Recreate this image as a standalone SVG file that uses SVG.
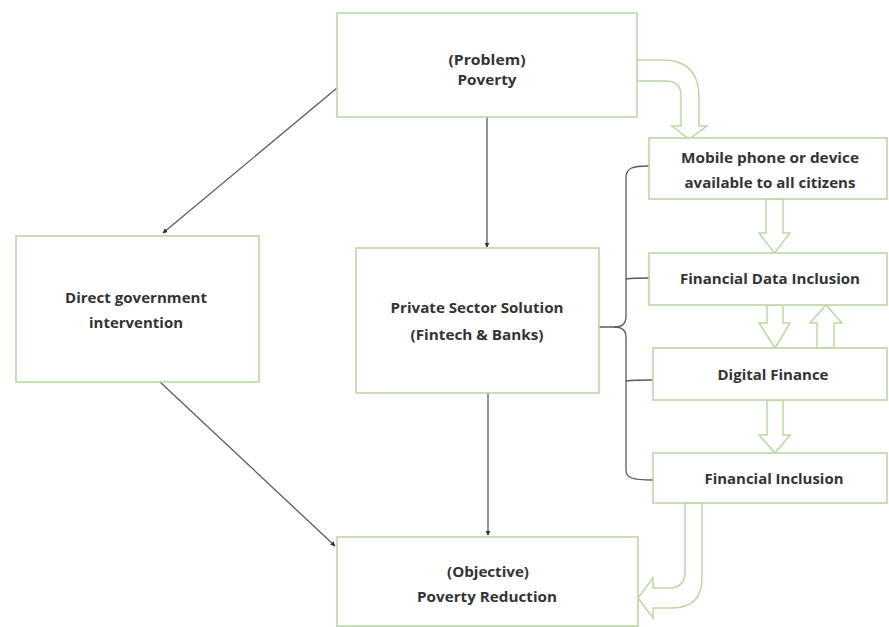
<svg xmlns="http://www.w3.org/2000/svg" width="889" height="627" viewBox="0 0 889 627">
<style>
.box{fill:#ffffff;stroke:#bcd6a4;stroke-width:1.6}
.blk{fill:#ffffff;stroke:#bcd6a4;stroke-width:1.5;stroke-linejoin:miter}
.ln{fill:none;stroke:#5a5a5a;stroke-width:1.3}
.t{font-family:"Open Sans","Liberation Sans",sans-serif;font-weight:700;font-size:15px;fill:#333333;text-anchor:middle}
.s{font-size:14px}
</style>
<defs>
<marker id="dot" viewBox="0 0 8 8" refX="7" refY="4" markerWidth="5" markerHeight="5" orient="auto" markerUnits="userSpaceOnUse">
<path d="M0,0 L8,4 L0,8 Z" fill="#333333"/>
</marker>
</defs>
<rect width="889" height="627" fill="#ffffff"/>
<g id="connectors">
<line class="ln" x1="337" y1="88" x2="163" y2="233" marker-end="url(#dot)"/>
<line class="ln" x1="160" y1="382" x2="335" y2="546" marker-end="url(#dot)"/>
<line class="ln" x1="487" y1="117" x2="487" y2="247" marker-end="url(#dot)"/>
<line class="ln" x1="488" y1="393" x2="488" y2="535" marker-end="url(#dot)"/>
<path class="ln" d="M649,166 C632,166 626,168 626,178 L626,317 C626,324 622,327 614,327 L599,327"/>
<path class="ln" d="M614,327 C622,327 626,330 626,337 L626,470 C626,478 632,480 653,480"/>
<path class="ln" d="M626,279 C634,278 640,278 649,278"/>
<path class="ln" d="M626,381 C634,380 642,380 653,380"/>
<path class="blk" d="M637,60 L662,60 Q699,60 699,97 L699,126 L707,126 L689,139 L672,126 L681,126 L681,96 Q681,81 666,81 L637,81 Z"/>
<path class="blk" d="M766,199 L766,233 L759,233 L774.5,253 L790,233 L783,233 L783,199 Z"/>
<path class="blk" d="M767,305 L767,323 L759,323 L775,348 L790,323 L783,323 L783,305 Z"/>
<path class="blk" d="M817,348 L817,323 L810,323 L826,305 L842,323 L834,323 L834,348 Z"/>
<path class="blk" d="M767,400 L767,435 L759,435 L775,453 L790,435 L783,435 L783,400 Z"/>
<path class="blk" d="M685,503 L685,572 Q685,588 669,588 L653,588 L653,578 L638,598 L653,618 L653,608 L672,608 Q702,608 702,578 L702,503 Z"/>
</g>
<g id="problem">
<rect class="box" x="337" y="13" width="300" height="104"/>
<text class="t s" x="487" y="65" textLength="77" lengthAdjust="spacingAndGlyphs">(Problem)</text>
<text class="t s" x="487" y="85" textLength="59" lengthAdjust="spacingAndGlyphs">Poverty</text>
</g>
<g id="direct">
<rect class="box" x="16" y="236" width="243" height="146"/>
<text class="t" x="136" y="303" textLength="142" lengthAdjust="spacingAndGlyphs">Direct government</text>
<text class="t" x="136" y="328" textLength="94" lengthAdjust="spacingAndGlyphs">intervention</text>
</g>
<g id="private">
<rect class="box" x="356" y="248" width="243" height="145"/>
<text class="t" x="477" y="313" textLength="173" lengthAdjust="spacingAndGlyphs">Private Sector Solution</text>
<text class="t" x="477" y="340" textLength="133" lengthAdjust="spacingAndGlyphs">(Fintech &amp; Banks)</text>
</g>
<g id="objective">
<rect class="box" x="337" y="537" width="301" height="89"/>
<text class="t" x="488" y="577" textLength="82" lengthAdjust="spacingAndGlyphs">(Objective)</text>
<text class="t" x="487" y="602" textLength="140" lengthAdjust="spacingAndGlyphs">Poverty Reduction</text>
</g>
<g id="mobile">
<rect class="box" x="649" y="138" width="238" height="61"/>
<text class="t" x="770" y="163" textLength="178" lengthAdjust="spacingAndGlyphs">Mobile phone or device</text>
<text class="t" x="770" y="188" textLength="171" lengthAdjust="spacingAndGlyphs">available to all citizens</text>
</g>
<g id="fdi">
<rect class="box" x="649" y="253" width="238" height="52"/>
<text class="t" x="770" y="284" textLength="180" lengthAdjust="spacingAndGlyphs">Financial Data Inclusion</text>
</g>
<g id="digital">
<rect class="box" x="653" y="348" width="234" height="52"/>
<text class="t" x="773" y="380" textLength="111" lengthAdjust="spacingAndGlyphs">Digital Finance</text>
</g>
<g id="inclusion">
<rect class="box" x="653" y="453" width="234" height="50"/>
<text class="t" x="774" y="484" textLength="139" lengthAdjust="spacingAndGlyphs">Financial Inclusion</text>
</g>
</svg>
